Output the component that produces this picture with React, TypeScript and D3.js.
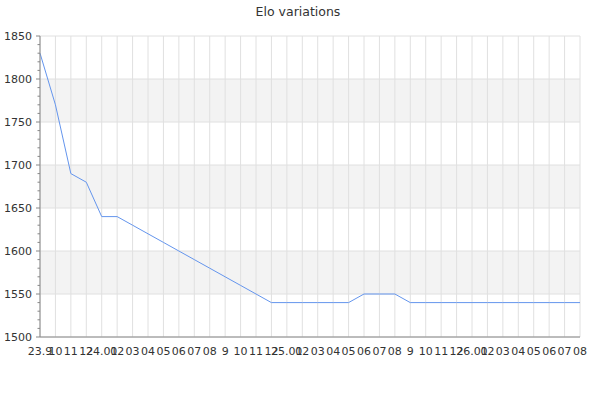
import * as d3 from 'd3';
import {useMemo} from 'react';

const WIDTH = 600;
const HEIGHT = 400;
const MARGIN = {top: 36, right: 20, bottom: 63, left: 40};

const TITLE = 'Elo variations';

const xLabels = [
  '23.9', '10', '11', '12',
  '24.01', '02', '03', '04', '05', '06', '07', '08', '9', '10', '11', '12',
  '25.01', '02', '03', '04', '05', '06', '07', '08', '9', '10', '11', '12',
  '26.01', '02', '03', '04', '05', '06', '07', '08',
];

const elo = [
  1830, 1770, 1690, 1680, 1640, 1640, 1630, 1620, 1610, 1600, 1590, 1580,
  1570, 1560, 1550, 1540, 1540, 1540, 1540, 1540, 1540, 1550, 1550, 1550,
  1540, 1540, 1540, 1540, 1540, 1540, 1540, 1540, 1540, 1540, 1540, 1540,
];

const yDomain: [number, number] = [1500, 1850];

function App() {
  const innerW = WIDTH - MARGIN.left - MARGIN.right;
  const innerH = HEIGHT - MARGIN.top - MARGIN.bottom;

  const x = useMemo(
    () => d3.scalePoint<number>().domain(xLabels.map((_, i) => i)).range([0, innerW]),
    [innerW],
  );
  const y = useMemo(() => d3.scaleLinear().domain(yDomain).range([innerH, 0]), [innerH]);

  const majorTicks = y.ticks(7);
  const minorTicks = d3.range(yDomain[0], yDomain[1] + 1, 10);

  const path = useMemo(() => {
    const line = d3
      .line<number>()
      .x((_, i) => x(i)!)
      .y((d) => y(d))
      .curve(d3.curveLinear);
    return line(elo);
  }, [x, y]);

  const bands = majorTicks.slice(0, -1).filter((_, i) => i % 2 === 1);

  return (
    <svg
      width={WIDTH}
      height={HEIGHT}
      style={{position: 'absolute', left: 0, top: 0, fontFamily: 'DejaVu Sans, sans-serif'}}
    >
      <text x={298} y={16} textAnchor="middle" fontSize={12.5} fill="#333">
        {TITLE}
      </text>
      <g transform={`translate(${MARGIN.left},${MARGIN.top})`}>
        {bands.map((t) => (
          <rect key={t} x={0} y={y(t + 50)} width={innerW} height={y(t) - y(t + 50)} fill="#f3f3f3" />
        ))}
        {majorTicks.map((t) => (
          <line key={t} x1={0} x2={innerW} y1={y(t)} y2={y(t)} stroke="#e0e0e0" />
        ))}
        {xLabels.map((_, i) => (
          <line key={i} x1={x(i)} x2={x(i)} y1={0} y2={innerH} stroke="#e0e0e0" />
        ))}
        <path d={path!} fill="none" stroke="#6495ed" strokeWidth={1} />
        <line x1={0} x2={innerW} y1={innerH} y2={innerH} stroke="#888" />
        <line x1={0} x2={0} y1={0} y2={innerH} stroke="#888" />
        {minorTicks.map((t) => (
          <line key={t} x1={t % 50 === 0 ? -4 : -2.5} x2={0} y1={y(t)} y2={y(t)} stroke="#888" />
        ))}
        {majorTicks.map((t) => (
          <text key={t} x={-8} y={y(t)} dy="0.35em" textAnchor="end" fontSize={11} fill="#333">
            {t}
          </text>
        ))}
        {xLabels.map((label, i) => (
          <text key={i} x={x(i)} y={innerH + 18} textAnchor="middle" fontSize={11} fill="#333">
            {label}
          </text>
        ))}
      </g>
    </svg>
  );
}

export default App;
